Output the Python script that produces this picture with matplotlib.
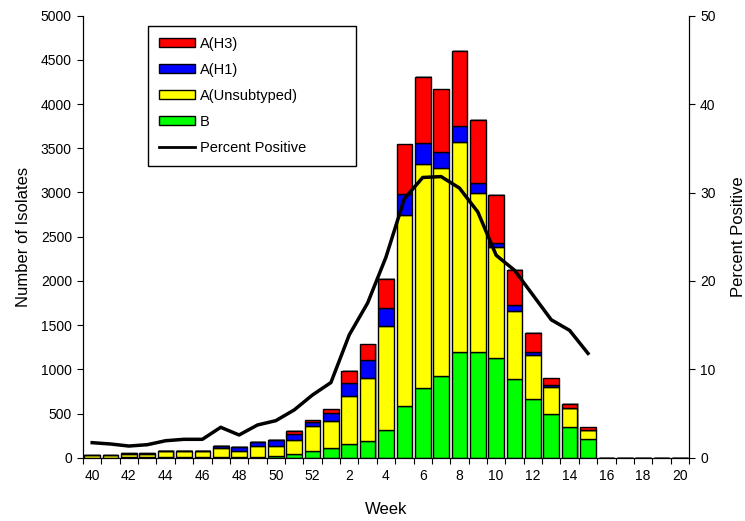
import matplotlib
matplotlib.use("Agg")
import matplotlib.pyplot as plt
import numpy as np
from matplotlib.patches import Patch
from matplotlib.lines import Line2D

plt.rcParams['font.family'] = ['Liberation Sans', 'DejaVu Sans']

weeks = [40, 41, 42, 43, 44, 45, 46, 47, 48, 49, 50, 51, 52,
         1, 2, 3, 4, 5, 6, 7, 8, 9, 10, 11, 12, 13, 14, 15, 16, 17, 18, 19, 20]

b = [0, 0, 3, 3, 3, 3, 3, 8, 10, 8, 20, 40, 80,
     106, 151, 192, 313, 588, 792, 924, 1192, 1192, 1124, 890, 660, 498, 343, 207,
     0, 0, 0, 0, 0]
a_unsub = [28, 28, 44, 44, 74, 74, 74, 98, 70, 128, 110, 165, 273,
           313, 547, 709, 1180, 2153, 2526, 2349, 2383, 1806, 1255, 773, 501, 298, 215, 102,
           0, 0, 0, 0, 0]
a_h1 = [0, 0, 2, 2, 2, 2, 2, 30, 45, 45, 75, 60, 56,
        83, 151, 204, 200, 238, 245, 185, 177, 113, 53, 64, 34, 26, 0, 0,
        0, 0, 0, 0, 0]
a_h3 = [0, 0, 0, 0, 0, 0, 0, 0, 0, 0, 0, 37, 15,
        45, 136, 177, 332, 566, 747, 709, 849, 709, 539, 396, 215, 75, 49, 34,
        0, 0, 0, 0, 0]
pct_pos = [1.7, 1.55, 1.32, 1.47, 1.92, 2.08, 2.08, 3.44, 2.57, 3.7, 4.19, 5.4, 7.1,
           8.5, 13.9, 17.5, 22.7, 29.3, 31.7, 31.8, 30.5, 27.8, 22.9, 21.2, 18.4, 15.6, 14.4, 11.8,
           np.nan, np.nan, np.nan, np.nan, np.nan]

x = np.arange(len(weeks))
b = np.array(b)
a_unsub = np.array(a_unsub)
a_h1 = np.array(a_h1)
a_h3 = np.array(a_h3)
total = b + a_unsub + a_h1 + a_h3

fig = plt.figure(figsize=(7.45, 5.21), dpi=100)
ax = fig.add_axes([83 / 745, 1 - 457.7 / 521, 606 / 745, 442 / 521])

w = 0.85
# grey shadow behind each stack
ax.bar(x + 0.06, np.where(total > 0, total + 8, 0), width=w, color='#a0a0a0', edgecolor='none', zorder=1)
ax.bar(x, b, width=w, color='#00ff00', edgecolor='black', linewidth=1, zorder=2)
ax.bar(x, a_unsub, bottom=b, width=w, color='#ffff00', edgecolor='black', linewidth=1, zorder=2)
ax.bar(x, a_h1, bottom=b + a_unsub, width=w, color='#0000ff', edgecolor='black', linewidth=1, zorder=2)
ax.bar(x, a_h3, bottom=b + a_unsub + a_h1, width=w, color='#ff0000', edgecolor='black', linewidth=1, zorder=2)

ax.set_xlim(-0.5, len(weeks) - 0.5)
ax.set_ylim(0, 5000)
ax.set_yticks(np.arange(0, 5001, 500))
ax.tick_params(axis='y', direction='out', length=4.5, labelsize=10)

# ticks between bars, labels under every second bar
ax.set_xticks(np.arange(-0.5, len(weeks), 1))
ax.set_xticklabels([])
ax.set_xticks(x[::2], minor=True)
ax.set_xticklabels([str(wk) for wk in weeks[::2]], minor=True)
ax.tick_params(axis='x', which='major', direction='out', length=4)
ax.tick_params(axis='x', which='minor', length=0, pad=8, labelsize=10)

ax.spines['top'].set_visible(False)
ax.set_xlabel('Week', fontsize=12, labelpad=14)
ax.set_ylabel('Number of Isolates', fontsize=12, labelpad=7)

ax2 = ax.twinx()
ax2.plot(x, pct_pos, color='black', linewidth=2.5, zorder=3)
ax2.set_ylim(0, 50)
ax2.set_yticks(np.arange(0, 51, 10))
ax2.tick_params(axis='y', direction='out', length=4.5, labelsize=10)
ax2.spines['top'].set_visible(False)
ax2.set_ylabel('Percent Positive', fontsize=12, labelpad=11)

handles = [Patch(facecolor='#ff0000', edgecolor='black', label='A(H3)'),
           Patch(facecolor='#0000ff', edgecolor='black', label='A(H1)'),
           Patch(facecolor='#ffff00', edgecolor='black', label='A(Unsubtyped)'),
           Patch(facecolor='#00ff00', edgecolor='black', label='B'),
           Line2D([0], [0], color='black', linewidth=2, label='Percent Positive')]
leg = ax2.legend(handles=handles, loc='upper left', bbox_to_anchor=(0.107, 0.5, 0.343, 0.477),
                 mode='expand', fontsize=10.5, frameon=True, fancybox=False, framealpha=1,
                 edgecolor='black', handlelength=2.5, handleheight=0.5, labelspacing=0.82,
                 borderaxespad=0, borderpad=0.75, handletextpad=0.3)
leg.get_frame().set_linewidth(1)

fig.savefig('out.png', dpi=100)
